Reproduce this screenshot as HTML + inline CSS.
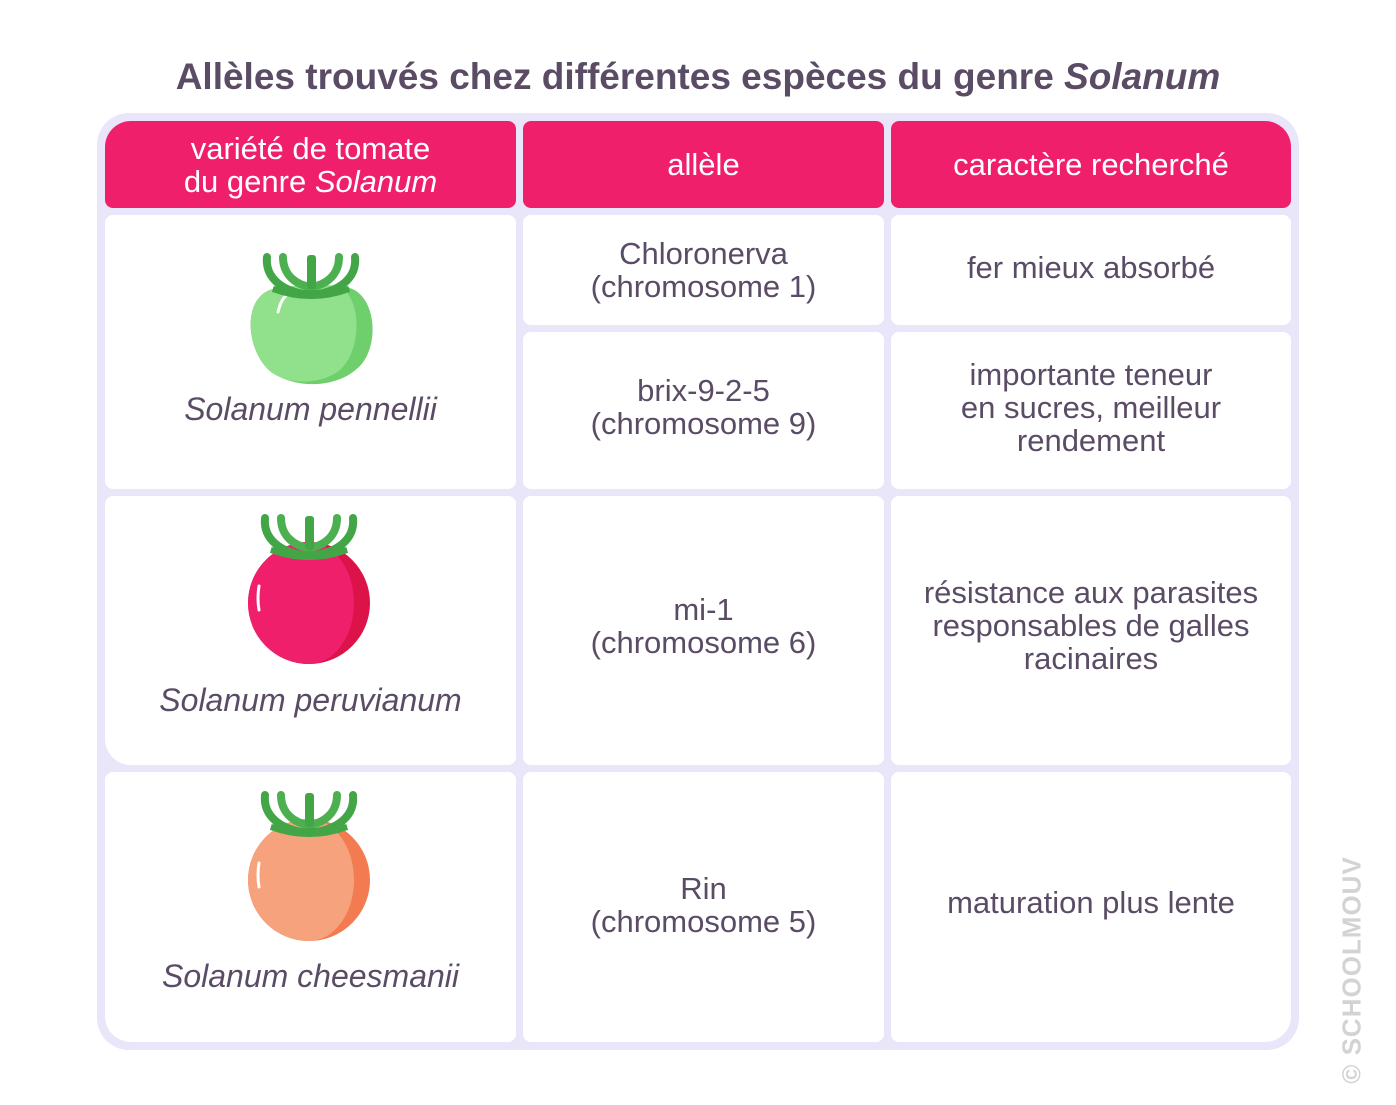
<!DOCTYPE html>
<html><head><meta charset="utf-8"><style>
body{margin:0;width:1396px;height:1105px;background:#fff;font-family:"Liberation Sans","DejaVu Sans",sans-serif;position:relative;overflow:hidden;color:#5b4c66}
.t{position:absolute;left:0;width:1396px;top:56px;text-align:center;font-size:37px;font-weight:bold;color:#5b4c66}
.frame{position:absolute;left:97px;top:113px;width:1202px;height:937px;background:#e9e6fa;border-radius:32px}
.c{position:absolute;background:#fff;border-radius:8px;display:flex;align-items:center;justify-content:center;text-align:center;font-size:31px;line-height:33px}
.h{background:#ef1f6c;color:#fff}
i{font-style:italic}
.lab{position:absolute;left:0;right:0;font-size:32px}
.wm{position:absolute;left:1352px;top:970px;transform:translate(-50%,-50%) rotate(-90deg);font-size:26px;font-weight:bold;color:#d3d3d3;white-space:nowrap;letter-spacing:1px}
</style></head><body>
<div class="t">Allèles trouvés chez différentes espèces du genre <i>Solanum</i></div>
<div class="frame"></div>
<div class="c h" style="left:105px;top:121px;width:411px;height:87px;border-top-left-radius:26px"><div>variété de tomate<br>du genre <i>Solanum</i></div></div>
<div class="c h" style="left:523px;top:121px;width:361px;height:87px"><div>allèle</div></div>
<div class="c h" style="left:891px;top:121px;width:400px;height:87px;border-top-right-radius:26px"><div>caractère recherché</div></div>

<div class="c" style="left:105px;top:215px;width:411px;height:274px"><i class="lab" style="top:178px">Solanum pennellii</i></div>
<div class="c" style="left:523px;top:215px;width:361px;height:110px"><div>Chloronerva<br>(chromosome 1)</div></div>
<div class="c" style="left:891px;top:215px;width:400px;height:110px;padding-bottom:6px;box-sizing:border-box"><div>fer mieux absorbé</div></div>
<div class="c" style="left:523px;top:332px;width:361px;height:157px;padding-bottom:8px;box-sizing:border-box"><div>brix-9-2-5<br>(chromosome 9)</div></div>
<div class="c" style="left:891px;top:332px;width:400px;height:157px;padding-bottom:6px;box-sizing:border-box"><div>importante teneur<br>en sucres, meilleur<br>rendement</div></div>

<div class="c" style="left:105px;top:496px;width:411px;height:269px;border-bottom-left-radius:26px"><i class="lab" style="top:188px">Solanum peruvianum</i></div>
<div class="c" style="left:523px;top:496px;width:361px;height:269px;padding-bottom:10px;box-sizing:border-box"><div>mi-1<br>(chromosome 6)</div></div>
<div class="c" style="left:891px;top:496px;width:400px;height:269px;padding-bottom:10px;box-sizing:border-box"><div>résistance aux parasites<br>responsables de galles<br>racinaires</div></div>

<div class="c" style="left:105px;top:772px;width:411px;height:270px;border-bottom-left-radius:26px"><i class="lab" style="top:188px">Solanum cheesmanii</i></div>
<div class="c" style="left:523px;top:772px;width:361px;height:270px;padding-bottom:4px;box-sizing:border-box"><div>Rin<br>(chromosome 5)</div></div>
<div class="c" style="left:891px;top:772px;width:400px;height:270px;border-bottom-right-radius:26px;padding-bottom:10px;box-sizing:border-box"><div>maturation plus lente</div></div>

<svg style="position:absolute;left:0;top:0" width="1396" height="1105">
<defs>
<g id="leaf">
<path d="M-44,-60 C-46,-40 -30,-25 0,-22 C30,-25 46,-40 44,-60" fill="none" stroke="#43a646" stroke-width="8" stroke-linecap="round"/>
<path d="M-28,-60 C-28,-42 -15,-32 0,-30 C15,-32 28,-42 28,-60" fill="none" stroke="#4cb050" stroke-width="8" stroke-linecap="round"/>
<rect x="-4" y="-62" width="9" height="34" rx="3" fill="#43a646"/>
<path d="M-38,-28 Q0,-14 38,-28 Q0,-20 -38,-28Z" fill="#43a646" stroke="#43a646" stroke-width="6"/>
</g>
</defs>
<g transform="translate(311,317)">
<path d="M-38,-28 C-70,-20 -65,35 -40,55 C-15,72 25,72 48,50 C70,28 65,-25 35,-30 C10,-33 -10,-33 -38,-28Z" fill="#70cf6d"/>
<path d="M-38,-28 C-70,-20 -65,35 -40,55 C-20,70 15,66 30,52 C52,30 50,-20 28,-31 C10,-33 -10,-33 -38,-28Z" fill="#90e08c"/>
<path d="M-33,-5 Q-30,-18 -24,-22" stroke="#fff" stroke-width="3" fill="none" stroke-linecap="round"/>
<use href="#leaf"/>
</g>
<g transform="translate(309,578)">
<circle cx="0" cy="25" r="61" fill="#dc1349"/>
<path d="M0,-36 A61,61 0 0 0 0,86 A45,61 0 0 0 0,-36Z" fill="#f01f6c"/>
<path d="M-50,8 Q-52,20 -50,32" stroke="#fff" stroke-width="3" fill="none" stroke-linecap="round"/>
<use href="#leaf"/>
</g>
<g transform="translate(309,855)">
<circle cx="0" cy="25" r="61" fill="#f27b52"/>
<path d="M0,-36 A61,61 0 0 0 0,86 A45,61 0 0 0 0,-36Z" fill="#f6a27c"/>
<path d="M-50,8 Q-52,20 -50,32" stroke="#fff" stroke-width="3" fill="none" stroke-linecap="round"/>
<use href="#leaf"/>
</g>
</svg>
<div class="wm">© SCHOOLMOUV</div>
</body></html>
